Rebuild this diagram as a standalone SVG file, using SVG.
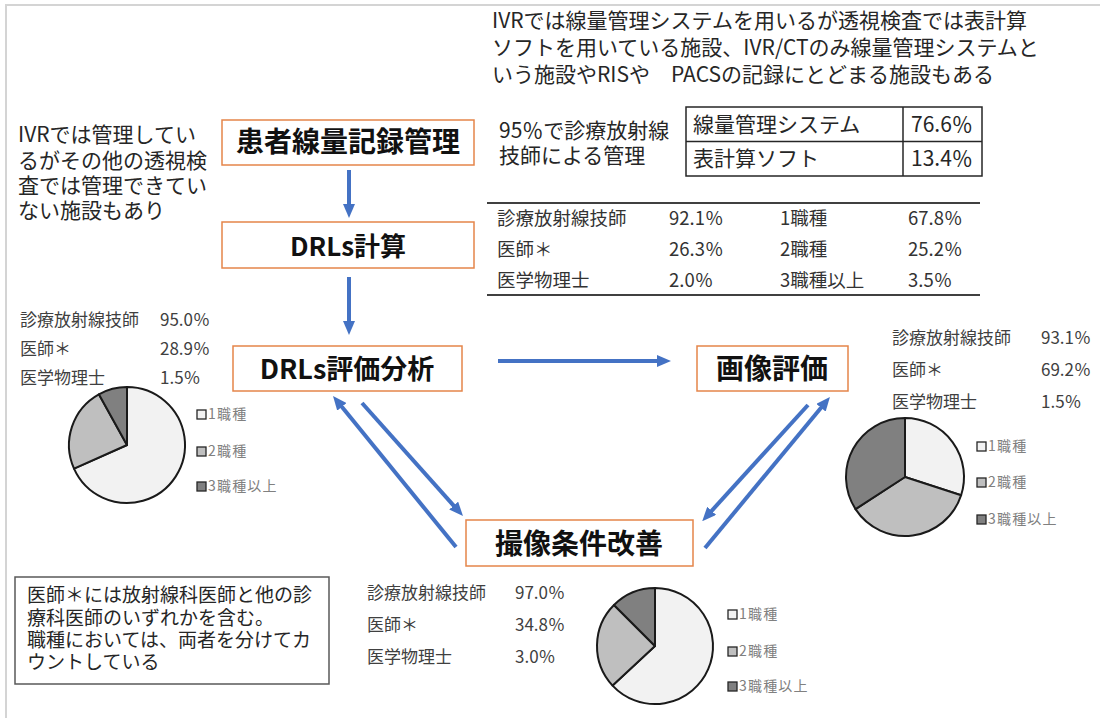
<svg xmlns="http://www.w3.org/2000/svg" width="1100" height="718" viewBox="0 0 1100 718">
<defs>
<style>
text{font-family:"Noto Sans CJK JP","Noto Sans",sans-serif;fill:#262626}
.title{font-size:28px;font-weight:700;fill:#111;text-anchor:middle}
.node{fill:#fff;stroke:#e5854a;stroke-width:1.5}
.note{font-size:21px}
.stat{font-size:17px;fill:#404040}
.tbl{font-size:18.5px;fill:#333}
.leg{font-size:14px;fill:#808080;letter-spacing:1.2px}
.s1{fill:#f2f2f2;stroke:#1a1a1a;stroke-width:2;stroke-linejoin:round}
.s2{fill:#bfbfbf;stroke:#1a1a1a;stroke-width:2;stroke-linejoin:round}
.s3{fill:#808080;stroke:#1a1a1a;stroke-width:2;stroke-linejoin:round}
.sq1{fill:#f2f2f2;stroke:#262626;stroke-width:1.3}
.sq2{fill:#bfbfbf;stroke:#262626;stroke-width:1.3}
.sq3{fill:#808080;stroke:#262626;stroke-width:1.3}
.arr{stroke:#4472c4;stroke-width:4;fill:none;marker-end:url(#ah)}
</style>
<marker id="ah" markerUnits="userSpaceOnUse" markerWidth="14" markerHeight="12" refX="2" refY="6" orient="auto">
<path d="M0,0 L14,6 L0,12 Z" fill="#4472c4"/>
</marker>
</defs>
<rect width="1100" height="718" fill="#fff"/>
<path d="M6,718 V5 H1100" fill="none" stroke="#d4d4d4" stroke-width="2"/>

<g id="note-top">
<text class="note" x="492" y="28">IVRでは線量管理システムを用いるが透視検査では表計算</text>
<text class="note" x="492" y="55">ソフトを用いている施設、IVR/CTのみ線量管理システムと</text>
<text class="note" x="492" y="82">いう施設やRISや　PACSの記録にとどまる施設もある</text>
</g>

<g id="note-left">
<text class="note" x="18" y="142">IVRでは管理してい</text>
<text class="note" x="18" y="167.5">るがその他の透視検</text>
<text class="note" x="18" y="193">査では管理できてい</text>
<text class="note" x="18" y="218">ない施設もあり</text>
</g>

<g id="note-95">
<text class="note" x="499" y="138">95％で診療放射線</text>
<text class="note" x="499" y="163">技師による管理</text>
</g>

<g id="table-system">
<rect x="686" y="107" width="296" height="69" fill="none" stroke="#262626" stroke-width="1.5"/>
<line x1="686" y1="141.5" x2="982" y2="141.5" stroke="#262626" stroke-width="1.5"/>
<line x1="903" y1="107" x2="903" y2="176" stroke="#262626" stroke-width="1.5"/>
<text class="note" x="693" y="132">線量管理システム</text>
<text class="note" x="911" y="132">76.6％</text>
<text class="note" x="693" y="166">表計算ソフト</text>
<text class="note" x="911" y="166">13.4％</text>
</g>

<g id="table-staff">
<line x1="487" y1="203" x2="980" y2="203" stroke="#404040" stroke-width="2"/>
<line x1="487" y1="295" x2="980" y2="295" stroke="#404040" stroke-width="2"/>
<text class="tbl" x="497" y="225">診療放射線技師</text>
<text class="tbl" x="669" y="225">92.1％</text>
<text class="tbl" x="780" y="225">1職種</text>
<text class="tbl" x="908" y="225">67.8％</text>
<text class="tbl" x="497" y="256">医師＊</text>
<text class="tbl" x="669" y="256">26.3％</text>
<text class="tbl" x="780" y="256">2職種</text>
<text class="tbl" x="908" y="256">25.2％</text>
<text class="tbl" x="497" y="287">医学物理士</text>
<text class="tbl" x="669" y="287">2.0％</text>
<text class="tbl" x="780" y="287">3職種以上</text>
<text class="tbl" x="908" y="287">3.5％</text>
</g>

<g id="node-record">
<rect class="node" x="222" y="120" width="252" height="45"/>
<text class="title" x="348" y="152">患者線量記録管理</text>
</g>
<g id="node-calc">
<rect class="node" x="222" y="222" width="252" height="46"/>
<text class="title" x="348" y="256" style="font-size:26px">DRLs計算</text>
</g>
<g id="node-analysis">
<rect class="node" x="233" y="346" width="229" height="45"/>
<text class="title" x="347" y="379" style="font-size:27px">DRLs評価分析</text>
</g>
<g id="node-image">
<rect class="node" x="697" y="346" width="151" height="45"/>
<text class="title" x="772" y="379">画像評価</text>
</g>
<g id="node-improve">
<rect class="node" x="466" y="520" width="227" height="46"/>
<text class="title" x="579" y="554">撮像条件改善</text>
</g>

<g id="connectors">
<line class="arr" x1="349" y1="170" x2="349" y2="206"/>
<line class="arr" x1="349" y1="277" x2="349" y2="323"/>
<line class="arr" x1="498" y1="361" x2="659" y2="361"/>
<line class="arr" x1="456" y1="547" x2="340.6" y2="405.3"/>
<line class="arr" x1="362" y1="403" x2="455" y2="507.1"/>
<line class="arr" x1="808" y1="405" x2="710.3" y2="512.3"/>
<line class="arr" x1="705" y1="548" x2="822.3" y2="406.2"/>
</g>

<g id="stats-left">
<text class="stat" x="20" y="326">診療放射線技師</text>
<text class="stat" x="160" y="326">95.0％</text>
<text class="stat" x="20" y="355">医師＊</text>
<text class="stat" x="160" y="355">28.9％</text>
<text class="stat" x="20" y="384">医学物理士</text>
<text class="stat" x="160" y="384">1.5％</text>
</g>
<g id="pie-left">
<path class="s1" d="M127,445 L127,387 A58,58 0 1 1 74.02,468.59 Z"/>
<path class="s2" d="M127,445 L74.02,468.59 A58,58 0 0 1 98.88,394.27 Z"/>
<path class="s3" d="M127,445 L98.88,394.27 A58,58 0 0 1 127,387 Z"/>
<rect class="sq1" x="197" y="410" width="9" height="9"/>
<text class="leg" x="208" y="419">1職種</text>
<rect class="sq2" x="197" y="447" width="9" height="9"/>
<text class="leg" x="208" y="456">2職種</text>
<rect class="sq3" x="197" y="482" width="9" height="9"/>
<text class="leg" x="208" y="491">3職種以上</text>
</g>

<g id="stats-right">
<text class="stat" x="892" y="344">診療放射線技師</text>
<text class="stat" x="1041" y="344">93.1％</text>
<text class="stat" x="892" y="376">医師＊</text>
<text class="stat" x="1041" y="376">69.2％</text>
<text class="stat" x="892" y="408">医学物理士</text>
<text class="stat" x="1041" y="408">1.5％</text>
</g>
<g id="pie-right">
<path class="s1" d="M905,477 L905,418 A59,59 0 0 1 961.11,495.23 Z"/>
<path class="s2" d="M905,477 L961.11,495.23 A59,59 0 0 1 855.52,509.13 Z"/>
<path class="s3" d="M905,477 L855.52,509.13 A59,59 0 0 1 905,418 Z"/>
<rect class="sq1" x="977" y="442" width="9" height="9"/>
<text class="leg" x="988" y="451">1職種</text>
<rect class="sq2" x="977" y="478" width="9" height="9"/>
<text class="leg" x="988" y="487">2職種</text>
<rect class="sq3" x="977" y="515" width="9" height="9"/>
<text class="leg" x="988" y="524">3職種以上</text>
</g>

<g id="stats-bottom">
<text class="stat" x="367" y="599">診療放射線技師</text>
<text class="stat" x="515" y="599">97.0％</text>
<text class="stat" x="367" y="631">医師＊</text>
<text class="stat" x="515" y="631">34.8％</text>
<text class="stat" x="367" y="663">医学物理士</text>
<text class="stat" x="515" y="663">3.0％</text>
</g>
<g id="pie-bottom">
<path class="s1" d="M655,646 L655,588 A58,58 0 1 1 612.58,685.56 Z"/>
<path class="s2" d="M655,646 L612.58,685.56 A58,58 0 0 1 613.99,604.99 Z"/>
<path class="s3" d="M655,646 L613.99,604.99 A58,58 0 0 1 655,588 Z"/>
<rect class="sq1" x="728" y="610" width="9" height="9"/>
<text class="leg" x="739" y="619">1職種</text>
<rect class="sq2" x="728" y="647" width="9" height="9"/>
<text class="leg" x="739" y="656">2職種</text>
<rect class="sq3" x="728" y="682" width="9" height="9"/>
<text class="leg" x="739" y="691">3職種以上</text>
</g>

<g id="note-footnote">
<rect x="15" y="577" width="314" height="107" fill="#fff" stroke="#595959" stroke-width="1.5"/>
<text x="27" y="602" style="font-size:19px">医師＊には放射線科医師と他の診</text>
<text x="27" y="625" style="font-size:19px">療科医師のいずれかを含む。</text>
<text x="27" y="647" style="font-size:19px">職種においては、両者を分けてカ</text>
<text x="27" y="669" style="font-size:19px">ウントしている</text>
</g>
</svg>
